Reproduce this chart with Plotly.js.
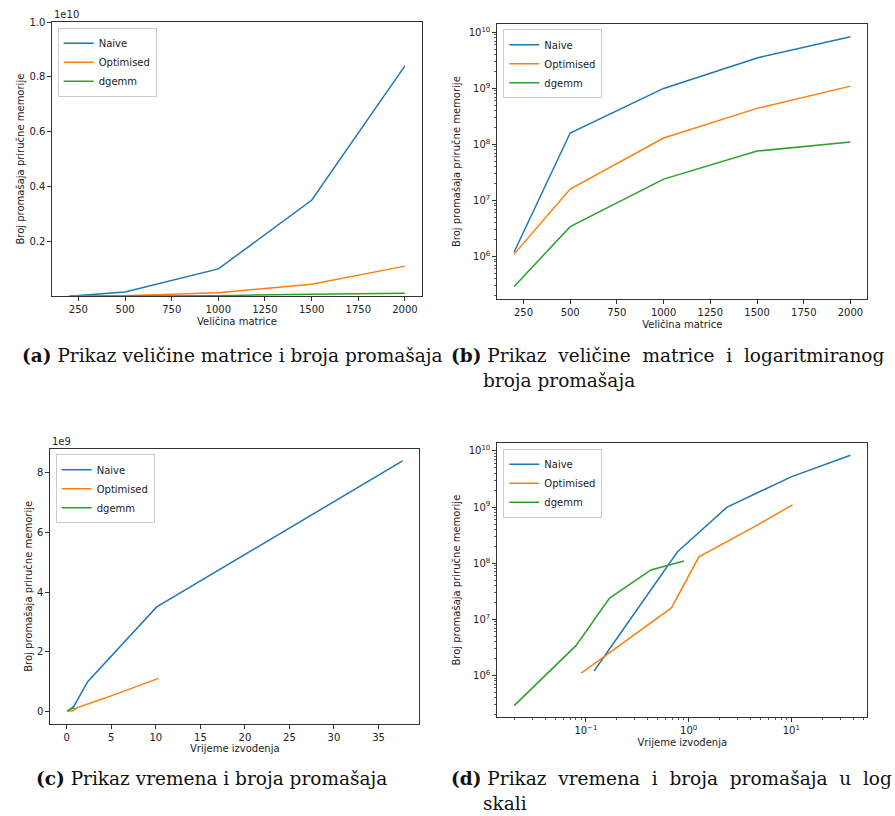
<!DOCTYPE html>
<html>
<head>
<meta charset="utf-8">
<script src="https://cdn.plot.ly/plotly-3.0.1.min.js"></script>
<style>html,body{margin:0;padding:0;background:#fff;}#chart{width:895px;height:816px;}</style>
</head>
<body>
<div id="chart"></div>
<script>
// ---- data ----
const seriesNames = ["Naive", "Optimised", "dgemm"];
const matrixSizes = [200, 500, 1000, 1500, 2000];
const naiveMisses = [1.2e6, 1.6e8, 1.0e9, 3.5e9, 8.4e9];
const optimisedMisses = [1.1e6, 1.6e7, 1.3e8, 4.4e8, 1.1e9];
const dgemmMisses = [2.9e5, 3.4e6, 2.4e7, 7.6e7, 1.1e8];
const naiveTimes = [0.12, 0.78, 2.37, 10.1, 37.7];
const optimisedTimes = [0.09, 0.68, 1.26, 4.3, 10.3];
const dgemmTimes = [0.02, 0.08, 0.17, 0.43, 0.9];

const sizeTicks = [250, 500, 750, 1000, 1250, 1500, 1750, 2000];
const linTicksA = [2e9, 4e9, 6e9, 8e9, 1e10];
const linTextA = ["0.2", "0.4", "0.6", "0.8", "1.0"];
const timeTicksC = [0, 5, 10, 15, 20, 25, 30, 35];
const linTicksC = [0, 2e9, 4e9, 6e9, 8e9];
const linTextC = ["0", "2", "4", "6", "8"];
const logTicksY = [1e6, 1e7, 1e8, 1e9, 1e10];
const logTextY = ["10<sup>6</sup>", "10<sup>7</sup>", "10<sup>8</sup>", "10<sup>9</sup>", "10<sup>10</sup>"];
const logTicksX = [0.1, 1, 10];
const logTextX = ["10<sup>\u22121</sup>", "10<sup>0</sup>", "10<sup>1</sup>"];

const captions = {
  a: "<b>(a)</b> Prikaz veličine matrice i broja promašaja",
  b1: "<b>(b)</b> Prikaz&nbsp; veličine&nbsp; matrice&nbsp; i&nbsp; logaritmiranog",
  b2: "broja promašaja",
  c: "<b>(c)</b> Prikaz vremena i broja promašaja",
  d1: "<b>(d)</b> Prikaz&nbsp; vremena&nbsp; i&nbsp; broja&nbsp; promašaja&nbsp; u&nbsp; log",
  d2: "skali"
};

const colors = ["#1f77b4", "#ff7f0e", "#2ca02c"];
const missSets = [naiveMisses, optimisedMisses, dgemmMisses];
const timeSets = [naiveTimes, optimisedTimes, dgemmTimes];

// minor tick positions for log axes
function minorVals(lo, hi) {
  const v = [];
  for (let e = lo; e <= hi; e++) for (let m = 2; m <= 9; m++) v.push(m * Math.pow(10, e));
  return v;
}

const W = 895, H = 816;
const px = x => x / W;
const py = y => 1 - y / H;

const traces = [];
const panels = [
  {xa: "x", ya: "y", leg: "legend", bySize: true},
  {xa: "x2", ya: "y2", leg: "legend2", bySize: true},
  {xa: "x3", ya: "y3", leg: "legend3", bySize: false},
  {xa: "x4", ya: "y4", leg: "legend4", bySize: false}
];
panels.forEach(p => {
  for (let i = 0; i < 3; i++) {
    traces.push({
      type: "scatter", mode: "lines",
      x: p.bySize ? matrixSizes : timeSets[i],
      y: missSets[i],
      name: seriesNames[i],
      line: {color: colors[i], width: 1.5},
      xaxis: p.xa, yaxis: p.ya, legend: p.leg,
      hoverinfo: "skip"
    });
  }
});

const tickFont = {family: "DejaVu Sans, sans-serif", size: 10, color: "#222"};
const titleFont = {family: "DejaVu Sans, sans-serif", size: 10, color: "#222"};
const baseAxis = {
  showline: true, mirror: true, linecolor: "#333", linewidth: 1,
  ticks: "outside", ticklen: 4, tickwidth: 1, tickcolor: "#333",
  showgrid: false, zeroline: false, tickfont: tickFont, fixedrange: true
};
const legendBase = {
  xanchor: "left", yanchor: "top",
  bgcolor: "rgba(255,255,255,0.8)", bordercolor: "#cccccc", borderwidth: 1,
  font: {family: "DejaVu Sans, sans-serif", size: 10, color: "#222"},
  itemwidth: 30
};
const minorLog = (vals) => ({tickmode: "array", tickvals: vals, ticks: "outside", ticklen: 2, tickwidth: 0.8, tickcolor: "#333", showgrid: false});

const layout = {
  width: W, height: H,
  margin: {l: 0, r: 0, t: 0, b: 0},
  paper_bgcolor: "#fff", plot_bgcolor: "#fff",
  showlegend: true,
  xaxis: Object.assign({}, baseAxis, {domain: [px(52.3), px(421.7)], anchor: "y", range: [110, 2090],
    tickmode: "array", tickvals: sizeTicks, title: {text: "Veličina matrice", font: titleFont, standoff: 3}}),
  yaxis: Object.assign({}, baseAxis, {domain: [py(296.3), py(22)], anchor: "x", range: [2.9e5, 1e10],
    tickmode: "array", tickvals: linTicksA, ticktext: linTextA, title: {text: "Broj promašaja priručne memorije", font: titleFont, standoff: 2}}),
  xaxis2: Object.assign({}, baseAxis, {domain: [px(497.3), px(867.3)], anchor: "y2", range: [110, 2090],
    tickmode: "array", tickvals: sizeTicks, title: {text: "Veličina matrice", font: titleFont, standoff: 3}}),
  yaxis2: Object.assign({}, baseAxis, {domain: [py(299), py(24.3)], anchor: "x2", type: "log", range: [5.24, 10.145],
    tickmode: "array", tickvals: logTicksY, ticktext: logTextY, minor: minorLog(minorVals(5, 9)),
    title: {text: "Broj promašaja priručne memorije", font: titleFont, standoff: 6}}),
  xaxis3: Object.assign({}, baseAxis, {domain: [px(50.3), px(419.3)], anchor: "y3", range: [-1.85, 39.58],
    tickmode: "array", tickvals: timeTicksC, title: {text: "Vrijeme izvođenja", font: titleFont, standoff: 3}}),
  yaxis3: Object.assign({}, baseAxis, {domain: [py(723.7), py(449)], anchor: "x3", range: [-0.42e9, 8.8e9],
    tickmode: "array", tickvals: linTicksC, ticktext: linTextC, title: {text: "Broj promašaja priručne memorije", font: titleFont, standoff: 2}}),
  xaxis4: Object.assign({}, baseAxis, {domain: [px(497.3), px(867.3)], anchor: "y4", type: "log", range: [-1.863, 1.74],
    tickmode: "array", tickvals: logTicksX, ticktext: logTextX, minor: minorLog(minorVals(-2, 1)),
    title: {text: "Vrijeme izvođenja", font: titleFont, standoff: 3}}),
  yaxis4: Object.assign({}, baseAxis, {domain: [py(717), py(443.3)], anchor: "x4", type: "log", range: [5.26, 10.137],
    tickmode: "array", tickvals: logTicksY, ticktext: logTextY, minor: minorLog(minorVals(5, 9)),
    title: {text: "Broj promašaja priručne memorije", font: titleFont, standoff: 6}}),
  legend: Object.assign({}, legendBase, {x: px(57.7), y: py(27.7)}),
  legend2: Object.assign({}, legendBase, {x: px(503.3), y: py(29.3)}),
  legend3: Object.assign({}, legendBase, {x: px(55.7), y: py(454.3)}),
  legend4: Object.assign({}, legendBase, {x: px(503.3), y: py(448.7)}),
  annotations: []
};

const capFont = {family: "DejaVu Serif, serif", size: 18.5, color: "#111"};
function ann(text, x, y, font, xanchor) {
  layout.annotations.push({text: text, x: px(x), y: py(y), xref: "paper", yref: "paper",
    xanchor: xanchor || "left", yanchor: "middle", showarrow: false, font: font});
}
ann("1e10", 52, 14, tickFont);
ann("1e9", 50, 441, tickFont);
ann(captions.a, 20, 355, capFont);
ann(captions.b1, 449, 355, capFont);
ann(captions.b2, 481, 380, capFont);
ann(captions.c, 34, 778, capFont);
ann(captions.d1, 449, 778, capFont);
ann(captions.d2, 481, 803, capFont);

Plotly.newPlot("chart", traces, layout, {displayModeBar: false, staticPlot: true});
</script>
</body>
</html>
